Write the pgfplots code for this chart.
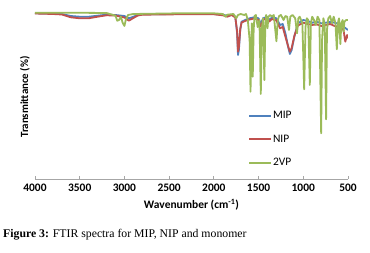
\documentclass[border=0pt]{standalone}
\usepackage{fontspec}
\setmainfont{Carlito}
\newfontfamily\capfont{Liberation Serif}
\usepackage{pgfplots}
\pgfplotsset{compat=1.18}
\definecolor{mipblue}{HTML}{4F81BD}
\definecolor{nipred}{HTML}{C0504D}
\definecolor{vpgreen}{HTML}{9BBB59}
\begin{document}
\begin{tikzpicture}[x=1bp,y=1bp]
\path[use as bounding box] (0,0) rectangle (370,253);
\begin{axis}[
  at={(35bp,74bp)}, anchor=south west,
  scale only axis, width=313bp, height=169bp,
  xmin=500, xmax=4000, x dir=reverse,
  ymin=0, ymax=169,
  axis x line*=bottom, axis y line*=left,
  x axis line style={gray!70, line width=0.8bp},
  y axis line style={draw=none},
  xtick={500,1000,...,4000},
  ytick=\empty,
  tick style={gray!70, line width=0.8bp},
  major tick length=3bp,
  tick align=inside,
  /pgf/number format/assume math mode=true,
  /pgf/number format/set thousands separator={},
  xticklabel style={font=\fontsize{11.5}{13}\selectfont\bfseries, yshift=-1bp},
  xlabel={Wavenumber (cm\textsuperscript{-1})},
  xlabel style={font=\fontsize{11.5}{13}\selectfont\bfseries, at={(axis description cs:0.5,0)}, anchor=center, yshift=-26bp},
  ylabel={Transmittance (\%)},
  ylabel style={font=\fontsize{11}{13}\selectfont\bfseries, at={(axis description cs:-0.032,0.485)}, anchor=center},
  legend style={draw=none, fill=none, at={(axis description cs:0.671,0.235)}, anchor=west,
    font=\fontsize{11.5}{13}\selectfont, row sep=12.5bp, nodes={inner sep=1bp}},
  legend cell align=left,
  legend image code/.code={\draw[#1] (0bp,0bp) -- (22bp,0bp);},
  every axis plot/.append style={line width=1.8bp, line join=round},
]
\addplot[mipblue] coordinates {
(4000,165.7)(3800,165.4)(3700,165)(3600,163)(3500,162.3)(3400,162.3)(3300,163.3)(3200,164.3)
(3100,164)(3000,163)(2950,160.7)(2900,162.3)(2850,164)(2800,164.7)(2400,165)(2000,165)
(1900,164.3)(1850,163.3)(1800,164.3)(1760,162.3)(1740,145.7)(1730,124)(1720,129)(1705,149)
(1690,157.3)(1650,159)(1600,160.7)(1550,161.7)(1500,160.7)(1480,155.7)(1460,158.3)(1450,160.7)
(1400,162.3)(1380,159)(1350,161.7)(1300,160.7)(1260,154)(1230,155)(1200,145.7)(1170,132.3)
(1150,125)(1130,129)(1100,142.3)(1060,155.7)(1000,159)(950,158)(900,156.3)(850,157.3)
(800,155.7)(750,156.3)(700,157)(650,156.3)(600,155)(550,152.3)(500,149)
};
\addlegendentry{MIP}
\addplot[nipred] coordinates {
(4000,165.5)(3800,165)(3700,164.5)(3600,161.7)(3500,160.7)(3400,160.7)(3300,162.3)(3200,163.7)
(3100,163.5)(3000,161.5)(2950,158.3)(2900,161)(2850,163.5)(2800,164.3)(2400,164.7)(2000,164.7)
(1900,163.7)(1850,162.3)(1800,164)(1760,161.5)(1740,148)(1730,127.3)(1720,132)(1705,150)
(1690,156.5)(1650,158)(1600,159.5)(1550,160.5)(1500,159)(1480,152.3)(1460,156)(1450,159)
(1400,161)(1380,157.5)(1350,160)(1300,158.5)(1260,150.7)(1230,152)(1200,142.3)(1170,133)
(1150,127.3)(1130,131)(1100,143)(1060,153.5)(1000,156.3)(950,155)(900,154)(850,154.7)
(800,153)(750,154)(700,155)(650,153)(600,152.3)(550,149)(530,137.3)(510,144)(500,140.7)
};
\addlegendentry{NIP}
\addplot[vpgreen] coordinates {
(4000,166.3)(3600,166.3)(3200,166)(3100,163.3)(3080,158.3)(3060,159)(3040,162.3)(3020,156.3)
(3000,153)(2985,159)(2960,164)(2900,165)(2400,165.7)(2000,165.7)(1900,165)(1870,162.3)
(1850,164.3)(1780,165)(1750,160.7)(1730,164)(1700,165)(1660,164)(1640,165)(1620,159)
(1600,139)(1590,87.3)(1580,139)(1575,155.7)(1565,102.3)(1555,149)(1545,163)(1530,164)
(1510,152)(1490,159)(1475,85)(1465,149)(1450,160.7)(1435,99)(1425,152.3)(1415,164)
(1400,150.7)(1390,162.3)(1370,164)(1350,162.3)(1330,164)(1300,137.7)(1285,159)(1270,163)
(1250,164)(1220,159)(1200,163)(1180,162.3)(1160,149)(1145,162.3)(1120,164)(1090,160.7)
(1070,145.7)(1055,160.7)(1040,162.3)(1010,155.7)(990,89.7)(975,152.3)(960,160.7)(945,159)
(927,94)(915,155.7)(900,162.3)(880,159)(860,154)(840,162.3)(820,159)(800,45.7)
(790,139)(775,160.7)(760,154)(745,59.7)(735,149)(720,160.7)(700,163)(680,155.7)
(660,162.3)(640,155.7)(625,129.7)(610,157.3)(600,160.7)(585,135)(575,155.7)(560,159)
(550,147.3)(540,157.3)(520,159)(500,159)
};
\addlegendentry{2VP}
\end{axis}
\node[anchor=base west, inner sep=0, font=\capfont\fontsize{11.8}{14}\selectfont] at (3,16)
  {\textbf{Figure 3:} FTIR spectra for MIP, NIP and monomer};
\end{tikzpicture}
\end{document}
